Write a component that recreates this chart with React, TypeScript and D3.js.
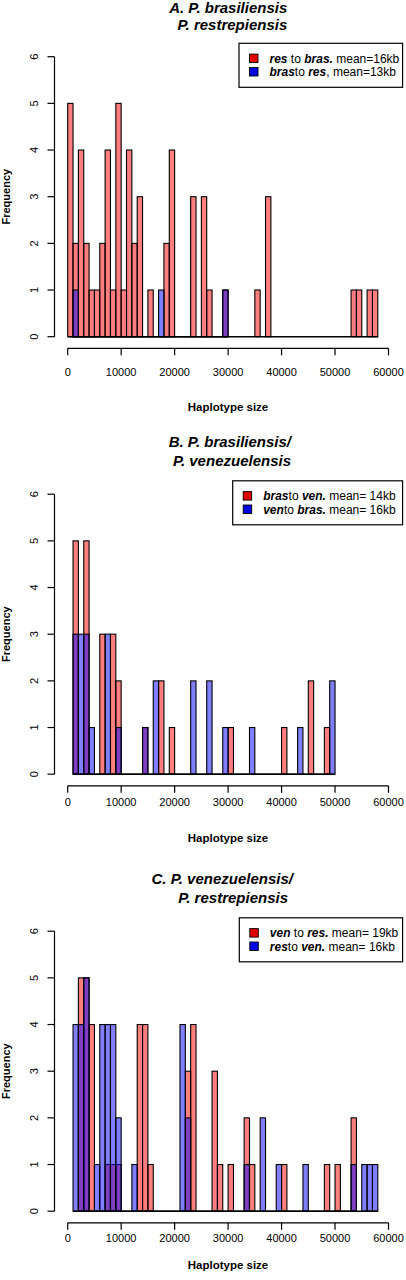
import React from "react";
import * as d3 from "d3";

// ---- data (counts per 1000 bp bin) ----
const binWidth = 1000;

const titlesA = ["A. P. brasiliensis", "P. restrepiensis"];
const titlesB = ["B. P. brasiliensis/", "P. venezuelensis"];
const titlesC = ["C. P. venezuelensis/", "P. restrepiensis"];

const redStartA = 0;
const redCountsA = [5,2,4,2,1,1,2,4,1,5, 1,4,2,3,0,1,0,0,2,4, 0,0,0,3,0,3,1,0,0,1, 0,0,0,0,0,1,0,3,0,0, 0,0,0,0,0,0,0,0,0,0, 0,0,0,1,1,0,1,1];
const blueStartA = 1000;
const blueCountsA = [1,0,0,0,0,0,0,0,0,0, 0,0,0,0,0,0,1,0,0,0, 0,0,0,0,0,0,0,0,1];

const redStartB = 1000;
const redCountsB = [5,0,5,0,0,3,0,3,2,0, 0,0,0,1,0,0,2,0,1,0, 0,0,0,0,0,0,0,0,0,1, 0,0,0,0,0,0,0,0,0,1, 0,0,0,0,2,0,0,1];
const blueStartB = 1000;
const blueCountsB = [3,3,3,1,0,0,3,0,1,0, 0,0,0,1,0,2,0,0,0,0, 0,0,2,0,0,2,0,0,1,0, 0,0,0,1,0,0,0,0,0,0, 0,0,1,0,0,0,0,0,2];

const redStartC = 2000;
const redCountsC = [5,5,4,0,0,1,1,1,0,0, 0,4,4,1,0,0,0,0,0,0, 3,4,0,0,0,3,1,0,1,0, 0,2,1,0,0,0,0,0,1,0, 0,0,0,0,0,0,1,0,1,0, 0,2];
const blueStartC = 1000;
const blueCountsC = [4,4,5,0,1,4,4,4,2,0, 0,1,0,0,0,0,0,0,0,0, 4,2,0,0,0,0,0,0,0,0, 0,0,1,0,0,2,0,0,1,0, 0,0,0,1,0,0,0,0,0,0, 0,0,1,0,1,1,1];

const xTicks = [0, 10000, 20000, 30000, 40000, 50000, 60000];
const yTicks = [0, 1, 2, 3, 4, 5, 6];

type Seg = { t: string; bi?: boolean };
const legendA: Seg[][] = [
  [{ t: "res", bi: true }, { t: " to " }, { t: "bras.", bi: true }, { t: " mean=16kb" }],
  [{ t: "bras", bi: true }, { t: "to " }, { t: "res", bi: true }, { t: ", mean=13kb" }],
];
const legendB: Seg[][] = [
  [{ t: "bras", bi: true }, { t: "to " }, { t: "ven.", bi: true }, { t: " mean= 14kb" }],
  [{ t: "ven", bi: true }, { t: "to " }, { t: "bras.", bi: true }, { t: " mean= 16kb" }],
];
const legendC: Seg[][] = [
  [{ t: "ven", bi: true }, { t: " to " }, { t: "res.", bi: true }, { t: " mean= 19kb" }],
  [{ t: "res", bi: true }, { t: "to " }, { t: "ven.", bi: true }, { t: " mean= 16kb" }],
];

const FONT = "'Liberation Sans', Arial, Helvetica, sans-serif";
const RED_FILL = "rgba(255,0,0,0.5)";
const BLUE_FILL = "rgba(0,0,255,0.5)";

const x = d3.scaleLinear().domain([0, 60000]).range([67.7, 388.5]);

type PanelProps = {
  off: number;
  titles: string[];
  titleEnds: number[];
  titleY: number[];
  redStart: number;
  redCounts: number[];
  blueStart: number;
  blueCounts: number[];
  legend: Seg[][];
  legendLeft: number;
  tickLabelY: number;
  xLabelY: number;
};

function Hist({ start, counts, fill, y }: { start: number; counts: number[]; fill: string; y: d3.ScaleLinear<number, number> }) {
  const end = start + counts.length * binWidth;
  return (
    <g>
      {counts.map((c, i) => {
        if (c === 0) return null;
        const x0 = x(start + i * binWidth);
        const x1 = x(start + (i + 1) * binWidth);
        return (
          <rect key={i} x={x0} y={y(c)} width={x1 - x0} height={y(0) - y(c)}
            fill={fill} stroke="#000" strokeWidth={1.1} />
        );
      })}
      <line x1={x(start)} x2={x(end)} y1={y(0)} y2={y(0)} stroke="#000" strokeWidth={1.6} />
    </g>
  );
}

function Panel(p: PanelProps) {
  const y = d3.scaleLinear().domain([0, 6]).range([336.7 + p.off, 56.7 + p.off]);
  const axisY = 348.3 + p.off;
  const yAxisX = 54.5;
  const legTop = 43.3 + p.off;
  const legRight = 402.6;
  return (
    <g fontFamily={FONT}>
      {p.titles.map((t, i) => (
        <text key={i} x={p.titleEnds[i]} y={p.titleY[i]} textAnchor="end"
          fontSize={15} fontWeight="bold" fontStyle="italic">{t}</text>
      ))}
      <Hist start={p.redStart} counts={p.redCounts} fill={RED_FILL} y={y} />
      <Hist start={p.blueStart} counts={p.blueCounts} fill={BLUE_FILL} y={y} />
      {/* x axis */}
      <line x1={x(0)} x2={x(60000)} y1={axisY} y2={axisY} stroke="#000" strokeWidth={1.2} />
      {xTicks.map((t) => (
        <g key={t}>
          <line x1={x(t)} x2={x(t)} y1={axisY} y2={axisY + 7} stroke="#000" strokeWidth={1.2} />
          <text x={x(t)} y={p.tickLabelY} textAnchor="middle" fontSize={11}>{t}</text>
        </g>
      ))}
      <text x={228} y={p.xLabelY} textAnchor="middle" fontSize={11.5} fontWeight="bold">Haplotype size</text>
      {/* y axis */}
      <line x1={yAxisX} x2={yAxisX} y1={y(0)} y2={y(6)} stroke="#000" strokeWidth={1.2} />
      {yTicks.map((t) => (
        <g key={t}>
          <line x1={yAxisX} x2={yAxisX - 7} y1={y(t)} y2={y(t)} stroke="#000" strokeWidth={1.2} />
          <text transform={`translate(37.5,${y(t)}) rotate(-90)`} textAnchor="middle" fontSize={11}>{t}</text>
        </g>
      ))}
      <text transform={`translate(10,${196.7 + p.off}) rotate(-90)`} textAnchor="middle" fontSize={11} fontWeight="bold">Frequency</text>
      {/* legend */}
      <rect x={p.legendLeft} y={legTop} width={legRight - p.legendLeft} height={44} fill="#fff" stroke="#000" strokeWidth={1.2} />
      {p.legend.map((row, i) => {
        const cy = legTop + 15 + i * 13.4;
        return (
          <g key={i}>
            <rect x={p.legendLeft + 10.5} y={cy - 4.2} width={8.5} height={8.5}
              fill={i === 0 ? "#e00000" : "#0000e0"} stroke="#000" strokeWidth={0.9} />
            <text x={p.legendLeft + 30.5} y={cy + 4.3} fontSize={12}>
              {row.map((s, j) => (
                <tspan key={j} fontWeight={s.bi ? "bold" : "normal"} fontStyle={s.bi ? "italic" : "normal"}>{s.t}</tspan>
              ))}
            </text>
          </g>
        );
      })}
    </g>
  );
}

export default function App() {
  return (
    <svg width={406} height={1280} style={{ position: "absolute", left: 0, top: 0, background: "#fff" }}>
      <rect x={0} y={0} width={406} height={1280} fill="#fff" />
      <Panel off={0} titles={titlesA} titleEnds={[287.3, 287.3]} titleY={[12.8, 29.8]}
        redStart={redStartA} redCounts={redCountsA} blueStart={blueStartA} blueCounts={blueCountsA}
        legend={legendA} legendLeft={239} tickLabelY={376} xLabelY={411} />
      <Panel off={437.5} titles={titlesB} titleEnds={[291, 291]} titleY={[446.5, 465.5]}
        redStart={redStartB} redCounts={redCountsB} blueStart={blueStartB} blueCounts={blueCountsB}
        legend={legendB} legendLeft={232.7} tickLabelY={806} xLabelY={842} />
      <Panel off={874.5} titles={titlesC} titleEnds={[293, 288]} titleY={[884, 902.5]}
        redStart={redStartC} redCounts={redCountsC} blueStart={blueStartC} blueCounts={blueCountsC}
        legend={legendC} legendLeft={239.3} tickLabelY={1242} xLabelY={1269} />
    </svg>
  );
}
